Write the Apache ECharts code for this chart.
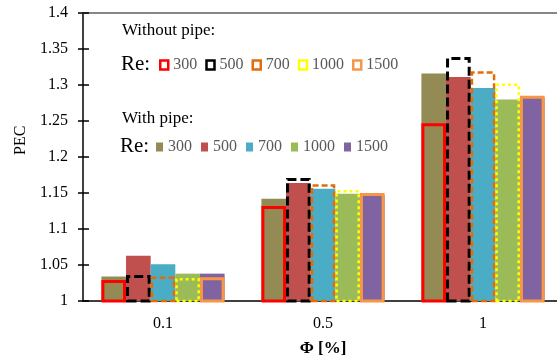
<!DOCTYPE html>
<html><head><meta charset="utf-8">
<script src="https://cdn.jsdelivr.net/npm/echarts@6/dist/echarts.min.js"></script>
<style>html,body{margin:0;padding:0;background:#fff}#c{width:557px;height:360px}</style>
</head><body><div id="c"></div>
<script>
var categories = ['0.1', '0.5', '1'];
var reLabels = ['300', '500', '700', '1000', '1500'];
// With pipe (filled bars)
var withPipe300  = [1.034, 1.142, 1.316];
var withPipe500  = [1.063, 1.164, 1.311];
var withPipe700  = [1.051, 1.156, 1.296];
var withPipe1000 = [1.038, 1.149, 1.280];
var withPipe1500 = [1.038, 1.147, 1.283];
// Without pipe (outlined bars)
var noPipe300  = [1.029, 1.132, 1.247];
var noPipe500  = [1.036, 1.171, 1.339];
var noPipe700  = [1.034, 1.162, 1.319];
var noPipe1000 = [1.032, 1.154, 1.302];
var noPipe1500 = [1.033, 1.150, 1.285];

var withData = [withPipe300, withPipe500, withPipe700, withPipe1000, withPipe1500];
var noData = [noPipe300, noPipe500, noPipe700, noPipe1000, noPipe1500];
var withColors = ['#948A54', '#C0504D', '#4BACC6', '#9BBB59', '#8064A2'];
var noStyles = [
  {borderColor: '#FF0000', borderWidth: 3, borderType: 'solid'},
  {borderColor: '#000000', borderWidth: 3, borderType: [9, 4]},
  {borderColor: '#E36C09', borderWidth: 2.5, borderType: [6, 3]},
  {borderColor: '#FFFF00', borderWidth: 2.5, borderType: [3, 3]},
  {borderColor: '#F79646', borderWidth: 3, borderType: 'solid'}
];
var serif = 'Liberation Serif, Times New Roman, serif';

var series = [];
withData.forEach(function (d, i) {
  series.push({
    name: reLabels[i] + ' ', type: 'bar', xAxisIndex: 0, data: d,
    barGap: '0%', barCategoryGap: '23%',
    itemStyle: {color: withColors[i]}
  });
});
noData.forEach(function (d, i) {
  series.push({
    name: reLabels[i], type: 'bar', xAxisIndex: 1, data: d,
    barGap: '0%', barCategoryGap: '23%',
    itemStyle: Object.assign({color: 'rgba(0,0,0,0)'}, noStyles[i])
  });
});

var chart = echarts.init(document.getElementById('c'));
chart.setOption({
  animation: false,
  grid: {left: 83, top: 13, height: 288, right: -6, containLabel: false, outerBoundsMode: 'none'},
  xAxis: [
    {type: 'category', data: categories, position: 'bottom',
     axisLine: {lineStyle: {color: '#000', width: 1.5}},
     axisTick: {length: 9, lineStyle: {color: '#000', width: 1.5}},
     axisLabel: {margin: 15, fontFamily: serif, fontSize: 16, color: '#000'},
     name: 'Φ [%]', nameLocation: 'middle', nameGap: 39,
     nameTextStyle: {fontFamily: serif, fontSize: 17, fontWeight: 'bold', color: '#000'}},
    {type: 'category', data: categories, position: 'top',
     axisLine: {lineStyle: {color: '#868686', width: 2}},
     axisTick: {show: false}, axisLabel: {show: false}},
    {type: 'category', data: categories, position: 'bottom', offset: -4,
     axisLine: {show: false},
     axisTick: {length: 4, lineStyle: {color: '#000', width: 1.5}},
     axisLabel: {show: false}}
  ],
  yAxis: [
    {type: 'value', min: 1, max: 1.4, interval: 0.05, position: 'left',
     axisLine: {show: true, lineStyle: {color: '#000', width: 1.5}},
     axisTick: {show: true, length: 5, lineStyle: {color: '#000', width: 1.5}},
     splitLine: {show: false},
     axisLabel: {margin: 15, fontFamily: serif, fontSize: 16, color: '#000',
       formatter: function (v) { return String(Math.round(v * 100) / 100); }}},
    {type: 'value', min: 1, max: 1.4, interval: 0.05, position: 'left', offset: -6,
     axisLine: {show: false},
     axisTick: {show: true, length: 6, lineStyle: {color: '#000', width: 1.5}},
     splitLine: {show: false}, axisLabel: {show: false}}
  ],
  legend: [
    {left: 159, top: 57, itemWidth: 8, itemHeight: 9, itemGap: 8, padding: 0,
     selectedMode: false,
     textStyle: {fontFamily: serif, fontSize: 16, color: '#595959'},
     formatter: function (n) { return n.trim(); },
     data: reLabels.map(function (r, i) {
       return {name: r, icon: 'rect', itemStyle: {color: '#fff', borderColor: noStyles[i].borderColor, borderWidth: 2.5, borderType: 'solid'}};
     })},
    {left: 156, top: 139, itemWidth: 7, itemHeight: 9, itemGap: 9, padding: 0,
     selectedMode: false,
     textStyle: {fontFamily: serif, fontSize: 16, color: '#595959'},
     formatter: function (n) { return n.trim(); },
     data: reLabels.map(function (r, i) {
       return {name: r + ' ', icon: 'rect', itemStyle: {color: withColors[i]}};
     })}
  ],
  graphic: [
    {type: 'text', left: 122, top: 22, style: {text: 'Without pipe:', font: '17px ' + serif, fill: '#000'}},
    {type: 'text', left: 121, top: 54, style: {text: 'Re:', font: '21px ' + serif, fill: '#000'}},
    {type: 'text', left: 122, top: 110, style: {text: 'With pipe:', font: '17px ' + serif, fill: '#000'}},
    {type: 'text', left: 120, top: 136, style: {text: 'Re:', font: '21px ' + serif, fill: '#000'}},
    {type: 'text', x: 13, y: 155, rotation: Math.PI / 2, style: {text: 'PEC', font: '16px ' + serif, fill: '#000'}}
  ],
  series: series
});
</script>
</body></html>
